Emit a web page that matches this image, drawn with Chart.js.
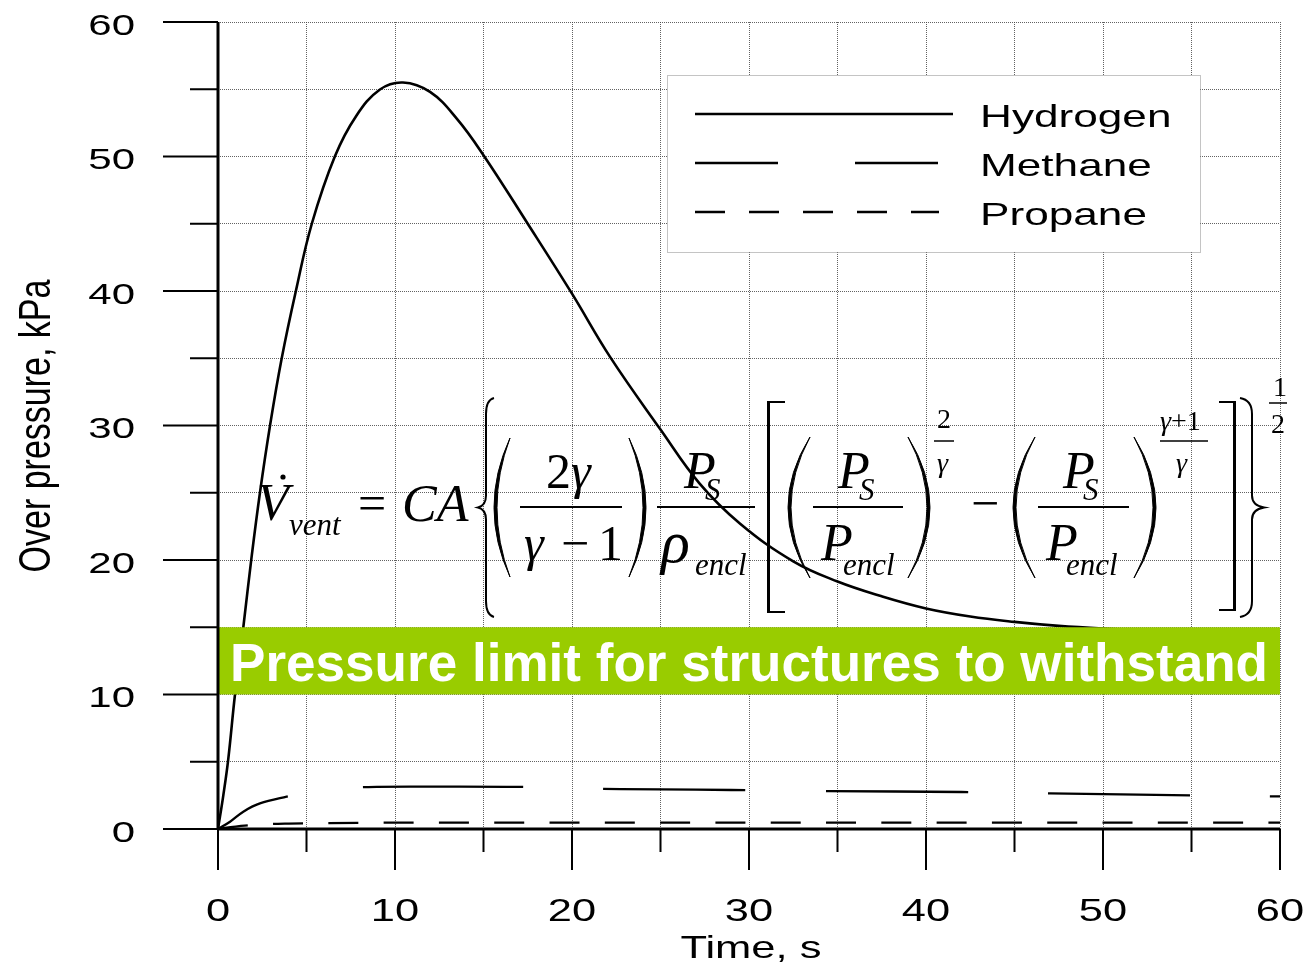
<!DOCTYPE html>
<html>
<head>
<meta charset="utf-8">
<title>Over pressure vs time</title>
<script src="https://cdn.jsdelivr.net/npm/chart.js@4.4.1/dist/chart.umd.min.js"></script>
<style>
    html, body { margin: 0; padding: 0; background: #fff; }
    #wrap { width: 1305px; height: 969px; position: relative; }
</style>
</head>
<body>
<div id="wrap"><canvas id="pressure-chart"></canvas></div>
<script>
// Over pressure (kPa) against time (s) for the three gases
const hydrogenTime = [0, 0.3, 0.58, 0.96, 1.43, 1.9, 2.37, 2.94, 3.6, 4.4, 5.3, 6.6, 7.8, 9.15, 10.45, 11.98, 13.5, 15, 17.5, 20, 22.15, 25, 27.2, 29.5, 32.5, 35, 37.5, 40, 42.5, 45, 47.5, 50, 55, 60];
const hydrogenPressure = [0, 2.5, 5.2, 10, 15, 20.25, 25, 30, 35, 40, 45, 50, 53, 54.98, 55.5, 54.8, 52.8, 50.1, 45, 39.8, 35.1, 29.7, 25.7, 22.7, 19.9, 18.4, 17.3, 16.4, 15.8, 15.4, 15.1, 14.9, 14.6, 14.4];

const methaneTime = [0, 0.68, 1.43, 2.37, 3.88, 5, 6.5, 8.5, 12, 17, 20.5, 25, 29, 34.5, 42, 47, 55, 60];
const methanePressure = [0, 0.54, 1.29, 1.9, 2.4, 2.7, 2.95, 3.12, 3.15, 3.13, 3.0, 2.95, 2.9, 2.82, 2.75, 2.65, 2.5, 2.42];

const propaneTime = [0, 0.5, 1, 1.5, 2, 3, 4, 6, 10, 20, 30, 40, 50, 60];
const propanePressure = [0, 0.1, 0.18, 0.25, 0.3, 0.37, 0.4, 0.44, 0.47, 0.47, 0.47, 0.47, 0.47, 0.47];

const xTicks = [0, 10, 20, 30, 40, 50, 60];
const yTicks = [0, 10, 20, 30, 40, 50, 60];
const limitBand = [10, 15];

const sans = '"Liberation Sans", Arial, sans-serif';
const serif = '"Liberation Serif", "Times New Roman", serif';
const stretch = 1.4;

function toPoints(xs, ys) {
    return xs.map((x, i) => ({ x: x, y: ys[i] }));
}

// text drawn wider than the font, the way the axis text is set
function stretchText(ctx, text, x, y, sx, align) {
    ctx.save();
    ctx.translate(x, y);
    ctx.scale(sx, 1);
    ctx.textAlign = align || 'left';
    ctx.fillText(text, 0, 0);
    ctx.restore();
}

function drawFormula(ctx) {
    ctx.save();
    ctx.fillStyle = '#000';
    ctx.strokeStyle = '#000';
    ctx.textAlign = 'left';
    ctx.textBaseline = 'alphabetic';

    function txt(s, x, y, size, italic) {
        ctx.font = (italic ? 'italic ' : '') + size + 'px ' + serif;
        ctx.fillText(s, x, y);
        return x + ctx.measureText(s).width;
    }
    function bar(x0, x1, y, w) {
        ctx.lineWidth = w || 2;
        ctx.beginPath();
        ctx.moveTo(x0, y);
        ctx.lineTo(x1, y);
        ctx.stroke();
    }
    function paren(x0, x1, top, bottom, left) {
        const mid = (top + bottom) / 2;
        const w = 3;
        ctx.beginPath();
        if (left) {
            ctx.moveTo(x1, top);
            ctx.quadraticCurveTo(2 * x0 - x1, mid, x1, bottom);
            ctx.quadraticCurveTo(2 * (x0 + w) - x1, mid, x1, top);
        } else {
            ctx.moveTo(x0, top);
            ctx.quadraticCurveTo(2 * x1 - x0, mid, x0, bottom);
            ctx.quadraticCurveTo(2 * (x1 - w) - x0, mid, x0, top);
        }
        ctx.fill();
        ctx.lineWidth = 1;
        ctx.stroke();
    }
    function bracket(x0, x1, top, bottom, left) {
        const v = left ? x0 + 1.5 : x1 - 1.5;
        ctx.lineWidth = 3;
        ctx.beginPath();
        ctx.moveTo(v, top);
        ctx.lineTo(v, bottom);
        ctx.stroke();
        ctx.lineWidth = 2;
        ctx.beginPath();
        ctx.moveTo(x0, top);
        ctx.lineTo(x1, top);
        ctx.moveTo(x0, bottom);
        ctx.lineTo(x1, bottom);
        ctx.stroke();
    }
    function brace(x0, x1, top, bottom, left) {
        const mid = (top + bottom) / 2;
        const tip = left ? x0 : x1;
        const stem = left ? x0 + (x1 - x0) * 0.5 : x1 - (x1 - x0) * 0.5;
        const end = left ? x1 : x0;
        ctx.lineWidth = 2;
        ctx.beginPath();
        ctx.moveTo(end, top);
        ctx.quadraticCurveTo(stem, top + 2, stem, top + 16);
        ctx.lineTo(stem, mid - 12);
        ctx.quadraticCurveTo(stem, mid - 2, tip, mid);
        ctx.quadraticCurveTo(stem, mid + 2, stem, mid + 12);
        ctx.lineTo(stem, bottom - 16);
        ctx.quadraticCurveTo(stem, bottom - 2, end, bottom);
        ctx.stroke();
    }

    // V-dot with subscript
    txt('V', 257, 520, 52, true);
    ctx.beginPath();
    ctx.arc(283, 477, 2.6, 0, Math.PI * 2);
    ctx.fill();
    txt('vent', 289, 535, 31, true);
    txt('=', 358, 520, 50);
    txt('CA', 402, 521, 52, true);

    brace(478, 494, 398, 617, true);

    // (2γ / (γ-1))
    paren(494, 510, 438, 577, true);
    let x = txt('2', 546, 488, 50);
    txt('γ', x, 488, 50, true);
    bar(520, 622, 507);
    txt('γ', 524, 560, 50, true);
    txt('−', 561, 560, 50);
    txt('1', 598, 560, 50);
    paren(629, 646, 438, 577, false);

    // P_S / rho_encl
    txt('P', 684, 488, 52, true);
    txt('S', 705, 500, 31, true);
    bar(657, 755, 507);
    txt('ρ', 661, 562, 60, true);
    txt('encl', 695, 575, 31, true);

    bracket(767, 785, 402, 612, true);

    // (P_S / P_encl)^(2/γ)
    paren(788, 810, 437, 578, true);
    txt('P', 838, 488, 52, true);
    txt('S', 859, 500, 31, true);
    bar(813, 903, 507);
    txt('P', 821, 560, 52, true);
    txt('encl', 843, 575, 31, true);
    paren(908, 930, 437, 578, false);
    txt('2', 937, 428, 28);
    bar(934, 954, 441, 1.5);
    txt('γ', 937, 472, 28, true);

    txt('−', 971, 520, 50);

    // (P_S / P_encl)^((γ+1)/γ)
    paren(1013, 1035, 437, 578, true);
    txt('P', 1063, 488, 52, true);
    txt('S', 1083, 500, 31, true);
    bar(1038, 1129, 507);
    txt('P', 1046, 560, 52, true);
    txt('encl', 1066, 575, 31, true);
    paren(1134, 1156, 437, 578, false);
    x = txt('γ', 1160, 430, 28, true);
    txt('+1', x, 430, 28);
    bar(1160, 1208, 441, 1.5);
    txt('γ', 1176, 472, 28, true);

    bracket(1219, 1236, 402, 610, false);
    brace(1240, 1264, 398, 617, false);

    txt('1', 1273, 396, 28);
    bar(1269, 1287, 403, 1.5);
    txt('2', 1271, 433, 28);

    ctx.restore();
}

const overlayPlugin = {
    id: 'overlay',
    beforeDatasetsDraw(chart) {
        drawFormula(chart.ctx);
    },
    afterDatasetsDraw(chart) {
        const ctx = chart.ctx;
        const xs = chart.scales.x;
        const ys = chart.scales.y;
        const area = chart.chartArea;

        ctx.save();

        // green band for the pressure limit
        const bandTop = ys.getPixelForValue(limitBand[1]);
        const bandBottom = ys.getPixelForValue(limitBand[0]);
        ctx.fillStyle = '#99cc00';
        ctx.fillRect(area.left, bandTop, area.right - area.left, bandBottom - bandTop);
        ctx.fillStyle = '#fff';
        ctx.font = 'bold 53px ' + sans;
        ctx.textBaseline = 'alphabetic';
        const bandText = 'Pressure limit for structures to withstand';
        const bw = ctx.measureText(bandText).width;
        stretchText(ctx, bandText, area.left + 12, bandBottom - 14, 1038 / bw, 'left');

        // axis lines
        ctx.strokeStyle = '#000';
        ctx.lineWidth = 3;
        ctx.beginPath();
        ctx.moveTo(area.left, area.top);
        ctx.lineTo(area.left, area.bottom);
        ctx.moveTo(area.left, area.bottom);
        ctx.lineTo(area.right, area.bottom);
        ctx.stroke();

        // tick marks, long at labelled values, short in between
        ctx.lineWidth = 2;
        ctx.beginPath();
        xTicks.forEach(v => {
            const px = xs.getPixelForValue(v);
            ctx.moveTo(px, area.bottom);
            ctx.lineTo(px, area.bottom + 41);
            if (v < 60) {
                const pm = xs.getPixelForValue(v + 5);
                ctx.moveTo(pm, area.bottom);
                ctx.lineTo(pm, area.bottom + 23);
            }
        });
        yTicks.forEach(v => {
            const py = ys.getPixelForValue(v);
            ctx.moveTo(area.left, py);
            ctx.lineTo(area.left - 55, py);
            if (v < 60) {
                const pm = ys.getPixelForValue(v + 5);
                ctx.moveTo(area.left, pm);
                ctx.lineTo(area.left - 28, pm);
            }
        });
        ctx.stroke();

        // tick labels
        ctx.fillStyle = '#000';
        ctx.font = '30px ' + sans;
        yTicks.forEach(v => {
            stretchText(ctx, String(v), 135, ys.getPixelForValue(v) + 12.5, stretch, 'right');
        });
        ctx.font = '31px ' + sans;
        xTicks.forEach(v => {
            stretchText(ctx, String(v), xs.getPixelForValue(v), 921, stretch, 'center');
        });

        // axis titles
        ctx.font = '32px ' + sans;
        stretchText(ctx, 'Time, s', (area.left + area.right) / 2 + 2, 958, 1.36, 'center');

        ctx.save();
        ctx.font = '34px ' + sans;
        ctx.translate(50, 426);
        ctx.scale(1.3, 1);
        ctx.rotate(-Math.PI / 2);
        ctx.textAlign = 'center';
        ctx.fillText('Over pressure, kPa', 0, 0);
        ctx.restore();

        // legend
        const box = { left: 667, top: 75, right: 1200, bottom: 252 };
        ctx.fillStyle = '#fff';
        ctx.fillRect(box.left, box.top, box.right - box.left, box.bottom - box.top);
        ctx.strokeStyle = '#888';
        ctx.lineWidth = 1;
        ctx.setLineDash([1, 1]);
        ctx.strokeRect(box.left + 0.5, box.top + 0.5, box.right - box.left, box.bottom - box.top);

        const samples = [
            { dash: [], width: 2.6, end: 953 },
            { dash: [83, 77], width: 2.4, end: 938 },
            { dash: [30, 24], width: 2.4, end: 939 }
        ];
        chart.data.datasets.forEach((ds, i) => {
            const y = 114 + i * 49;
            ctx.strokeStyle = '#000';
            ctx.lineWidth = samples[i].width;
            ctx.setLineDash(samples[i].dash);
            ctx.beginPath();
            ctx.moveTo(695, y);
            ctx.lineTo(samples[i].end, y);
            ctx.stroke();
            ctx.setLineDash([]);
            ctx.fillStyle = '#000';
            ctx.font = '32px ' + sans;
            stretchText(ctx, ds.label, 980, y + 12.5, 1.38, 'left');
        });

        ctx.restore();
    }
};

const gridStyle = {
    color: 'rgba(70, 70, 70, 0.85)',
    lineWidth: 1,
    drawTicks: false
};

new Chart(document.getElementById('pressure-chart'), {
    type: 'line',
    data: {
        datasets: [
            {
                label: 'Hydrogen',
                data: toPoints(hydrogenTime, hydrogenPressure),
                borderColor: '#000',
                borderWidth: 2.6,
                pointRadius: 0,
                tension: 0.4,
                fill: false
            },
            {
                label: 'Methane',
                data: toPoints(methaneTime, methanePressure),
                borderColor: '#000',
                borderWidth: 2.3,
                // long dashes, the first one on the curved rise
                borderDash: [78, 76, 160, 80, 142, 81, 142, 80, 142, 80, 142, 80],
                pointRadius: 0,
                tension: 0.35,
                fill: false
            },
            {
                label: 'Propane',
                data: toPoints(propaneTime, propanePressure),
                borderColor: '#000',
                borderWidth: 2.3,
                borderDash: [30, 25.3],
                pointRadius: 0,
                cubicInterpolationMode: 'monotone',
                fill: false
            }
        ]
    },
    options: {
        responsive: true,
        maintainAspectRatio: false,
        animation: false,
        devicePixelRatio: 1,
        layout: { padding: { left: 218, right: 25, top: 22, bottom: 140 } },
        plugins: {
            legend: { display: false },
            tooltip: { enabled: false }
        },
        scales: {
            x: {
                type: 'linear',
                min: 0,
                max: 60,
                ticks: { display: false, stepSize: 5 },
                grid: gridStyle,
                border: { display: false, dash: [1, 1] }
            },
            y: {
                type: 'linear',
                min: 0,
                max: 60,
                ticks: { display: false, stepSize: 5 },
                grid: gridStyle,
                border: { display: false, dash: [1, 1] }
            }
        }
    },
    plugins: [overlayPlugin]
});
</script>
</body>
</html>
